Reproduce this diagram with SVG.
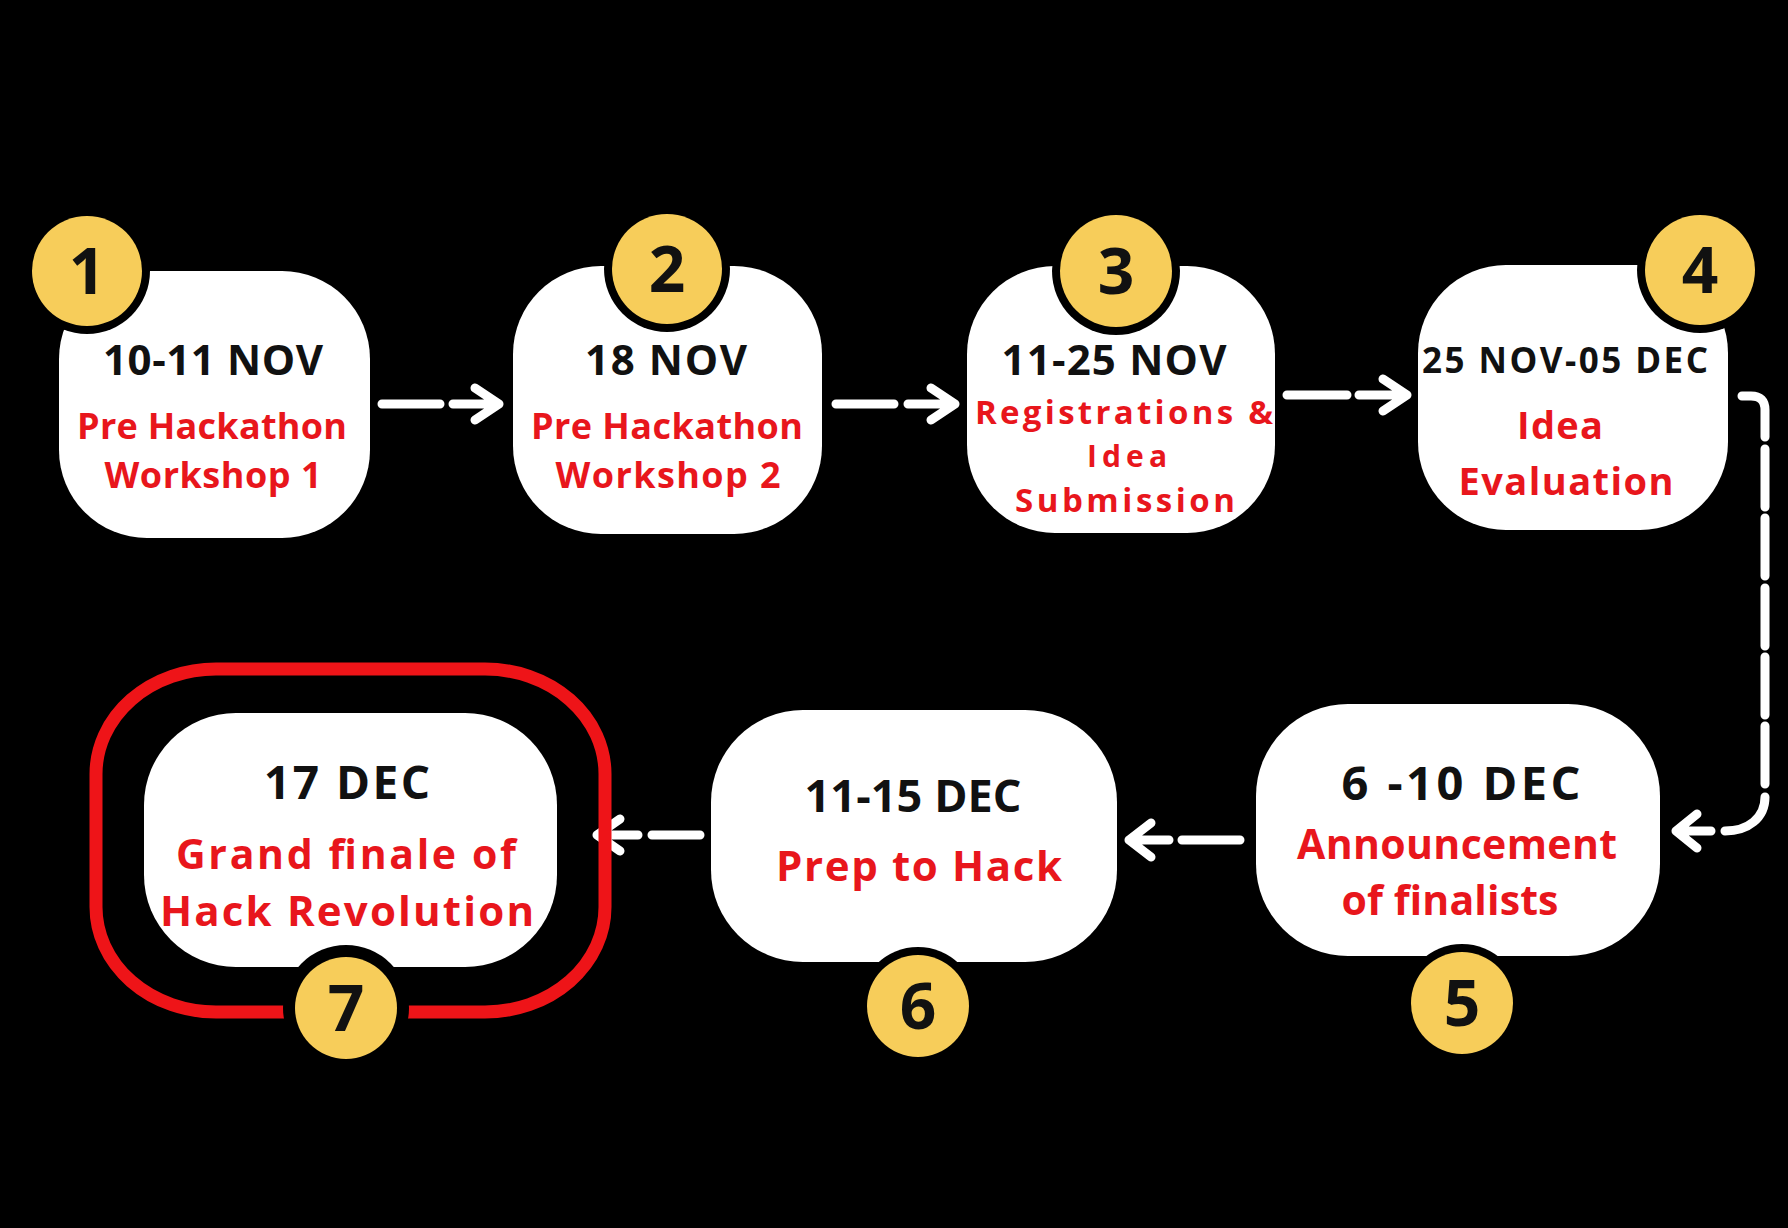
<svg xmlns="http://www.w3.org/2000/svg" width="1788" height="1228" viewBox="0 0 1788 1228">
<style>
.box{fill:#ffffff}
.date{font-family:"Open Sans","Liberation Sans",sans-serif;font-weight:700;fill:#111111;text-anchor:middle}
.lbl{font-family:"Open Sans","Liberation Sans",sans-serif;font-weight:700;fill:#e8161c;text-anchor:middle}
.ring{fill:#000000}
.badge{fill:#f7cd5a}
.num{font-family:"Open Sans","Liberation Sans",sans-serif;font-weight:700;font-size:64px;fill:#111111;text-anchor:middle}
.con{fill:none;stroke:#ffffff;stroke-width:9;stroke-linecap:round;stroke-linejoin:round}
</style>
<rect x="0" y="0" width="1788" height="1228" fill="#000000"/>

<g id="connectors">
  <path class="con" d="M382,404 H440 M453,404 H499 M475,388 L499,404 L475,420"/>
  <path class="con" d="M836,404 H894 M908,404 H955 M931,388 L955,404 L931,420"/>
  <path class="con" d="M1287,395 H1347 M1359,395 H1407 M1383,379 L1407,395 L1383,411"/>
  <path class="con" d="M1742,396 H1751 Q1765,396 1765,410 V437"/>
  <path class="con" d="M1765,449 V507 M1765,518 V576 M1765,588 V646 M1765,657 V715 M1765,726 V784"/>
  <path class="con" d="M1765,797 C1765,818 1748,831 1725,831"/>
  <path class="con" d="M1711,831 H1676 M1697,814 L1676,831 L1697,848"/>
  <path class="con" d="M1240,840 H1182 M1169,840 H1129 M1151,823 L1129,840 L1151,857"/>
  <path class="con" d="M700,835 H652 M638,835 H597 M620,819 L597,835 L620,851"/>
</g>

<g id="node1">
  <rect class="box" x="59" y="271" width="311" height="267" rx="88" ry="88"/>
  <text class="date" x="213" y="375" font-size="42" textLength="220" lengthAdjust="spacing">10-11 NOV</text>
  <text class="lbl" x="212" y="439" font-size="36" textLength="270" lengthAdjust="spacing">Pre Hackathon</text>
  <text class="lbl" x="213" y="488" font-size="36" textLength="217" lengthAdjust="spacing">Workshop 1</text>
  <circle class="ring" cx="87" cy="271" r="63"/>
  <circle class="badge" cx="87" cy="271" r="55"/>
  <text class="num" x="87" y="294">1</text>
</g>

<g id="node2">
  <rect class="box" x="513" y="266" width="309" height="268" rx="88" ry="88"/>
  <text class="date" x="666" y="375" font-size="42" textLength="162" lengthAdjust="spacing">18 NOV</text>
  <text class="lbl" x="667" y="439" font-size="36" textLength="272" lengthAdjust="spacing">Pre Hackathon</text>
  <text class="lbl" x="668" y="488" font-size="36" textLength="225" lengthAdjust="spacing">Workshop 2</text>
  <circle class="ring" cx="667" cy="269" r="63"/>
  <circle class="badge" cx="667" cy="269" r="55"/>
  <text class="num" x="667" y="292">2</text>
</g>

<g id="node3">
  <rect class="box" x="967" y="266" width="308" height="267" rx="88" ry="88"/>
  <text class="date" x="1114" y="375" font-size="42" textLength="225" lengthAdjust="spacing">11-25 NOV</text>
  <text class="lbl" x="1124" y="424" font-size="33" textLength="298" lengthAdjust="spacing">Registrations &amp;</text>
  <text class="lbl" x="1127" y="467" font-size="30" textLength="80" lengthAdjust="spacing">Idea</text>
  <text class="lbl" x="1125" y="512" font-size="33" textLength="220" lengthAdjust="spacing">Submission</text>
  <circle class="ring" cx="1116" cy="271" r="64"/>
  <circle class="badge" cx="1116" cy="271" r="56"/>
  <text class="num" x="1116" y="294">3</text>
</g>

<g id="node4">
  <rect class="box" x="1418" y="265" width="310" height="265" rx="88" ry="88"/>
  <text class="date" x="1565" y="373" font-size="35" textLength="286" lengthAdjust="spacing">25 NOV-05 DEC</text>
  <text class="lbl" x="1560" y="439" font-size="38" textLength="86" lengthAdjust="spacing">Idea</text>
  <text class="lbl" x="1566" y="495" font-size="38" textLength="215" lengthAdjust="spacing">Evaluation</text>
  <circle class="ring" cx="1700" cy="270" r="63"/>
  <circle class="badge" cx="1700" cy="270" r="55"/>
  <text class="num" x="1700" y="293">4</text>
</g>

<g id="node5">
  <rect class="box" x="1256" y="704" width="404" height="252" rx="92" ry="92"/>
  <text class="date" x="1461" y="800" font-size="47" textLength="239" lengthAdjust="spacing">6 -10 DEC</text>
  <text class="lbl" x="1457" y="859" font-size="41" textLength="320" lengthAdjust="spacing">Announcement</text>
  <text class="lbl" x="1450" y="915" font-size="41" textLength="217" lengthAdjust="spacing">of finalists</text>
  <circle class="ring" cx="1462" cy="1003" r="59"/>
  <circle class="badge" cx="1462" cy="1003" r="51"/>
  <text class="num" x="1462" y="1026">5</text>
</g>

<g id="node6">
  <rect class="box" x="711" y="710" width="406" height="252" rx="92" ry="92"/>
  <text class="date" x="913" y="812" font-size="45" textLength="217" lengthAdjust="spacing">11-15 DEC</text>
  <text class="lbl" x="919" y="881" font-size="42" textLength="286" lengthAdjust="spacing">Prep to Hack</text>
  <circle class="ring" cx="918" cy="1006" r="59"/>
  <circle class="badge" cx="918" cy="1006" r="51"/>
  <text class="num" x="918" y="1029">6</text>
</g>

<g id="node7">
  <rect x="96" y="669" width="509" height="343" rx="120" ry="105" fill="none" stroke="#ee1418" stroke-width="13"/>
  <rect class="box" x="144" y="713" width="413" height="254" rx="92" ry="92"/>
  <text class="date" x="347" y="799" font-size="46" textLength="166" lengthAdjust="spacing">17 DEC</text>
  <text class="lbl" x="346" y="869" font-size="41" textLength="340" lengthAdjust="spacing">Grand finale of</text>
  <text class="lbl" x="347" y="926" font-size="42" textLength="374" lengthAdjust="spacing">Hack Revolution</text>
  <circle class="ring" cx="346" cy="1008" r="63"/>
  <circle class="badge" cx="346" cy="1008" r="51"/>
  <text class="num" x="346" y="1031">7</text>
</g>
</svg>
